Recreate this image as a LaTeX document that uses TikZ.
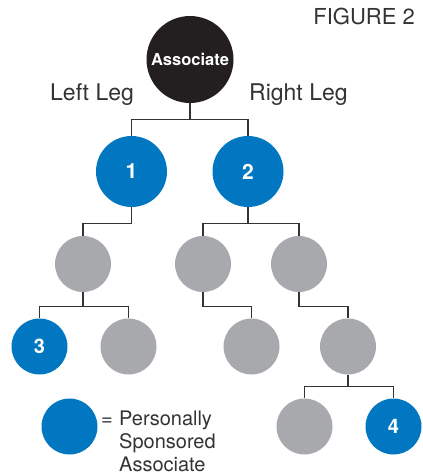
\documentclass[tikz,border=0pt]{standalone}
\usepackage{fontspec}
\setmainfont{TeX Gyre Heros}
\definecolor{cblue}{HTML}{0077C0}
\definecolor{cgray}{HTML}{A7A9AC}
\definecolor{cblack}{HTML}{231F20}
\definecolor{ctext}{HTML}{333333}
\begin{document}
\begin{tikzpicture}[x=1pt,y=-1pt,
  bub/.style={circle,inner sep=0pt,minimum size=56pt,draw=none},
  graybub/.style={bub,fill=cgray},
  bluebub/.style={bub,fill=cblue,text=white,font=\bfseries\fontsize{20}{24}\selectfont},
  bigbub/.style={bluebub,minimum size=71pt,font=\bfseries\fontsize{21}{24}\selectfont},
  link/.style={draw=ctext,line width=1.3pt},
  lbl/.style={anchor=base west,inner sep=0pt,text=ctext,font=\fontsize{23}{27}\selectfont},
  leg/.style={anchor=base west,inner sep=0pt,text=ctext,font=\fontsize{20}{23}\selectfont}]
\useasboundingbox (0,0) rectangle (423,475);
% nodes
\node[circle,inner sep=0pt,minimum size=87pt,fill=cblack,text=white,font=\bfseries\fontsize{16.5}{20}\selectfont] (root) at (190,59.5) {Associate};
\node[bigbub] (n1) at (131.5,171.5) {1};
\node[bigbub] (n2) at (248,171.5) {2};
\node[graybub] (a) at (83,264) {};
\node[graybub] (b) at (203,264) {};
\node[graybub] (c) at (299,264) {};
\node[bluebub] (n3) at (39.5,346.5) {3};
\node[graybub] (d) at (128.5,346.5) {};
\node[graybub] (e) at (251.5,346.5) {};
\node[graybub] (f) at (348,346.5) {};
\node[graybub] (g) at (304.5,426.5) {};
\node[bluebub] (n4) at (393.5,426.5) {4};
\node[bluebub] (legend) at (69.5,426.5) {};
% labels
\node[lbl,anchor=base east,font=\fontsize{22}{26}\selectfont] (fig) at (415,24) {FIGURE 2};
\node[lbl] (left) at (50,100) {Left Leg};
\node[lbl] (right) at (249,100) {Right Leg};
\node[leg] (eq) at (101,425) {=};
\node[leg] (t1) at (119,425) {Personally};
\node[leg] (t2) at (119,448) {Sponsored};
\node[leg] (t3) at (119,471) {Associate};
% connectors
\draw[link] (root.south) -- ++(0,16) -| (n1.north);
\draw[link] (root.south) -- ++(0,16) -| (n2.north);
\draw[link] (n1.south) -- ++(0,16) -| (a.north);
\draw[link] (n2.south) -- ++(0,16) -| (b.north);
\draw[link] (n2.south) -- ++(0,16) -| (c.north);
\draw[link] (a.south) -- ++(0,14) -| (n3.north);
\draw[link] (a.south) -- ++(0,14) -| (d.north);
\draw[link] (b.south) -- ++(0,14) -| (e.north);
\draw[link] (c.south) -- ++(0,14) -| (f.north);
\draw[link] (f.south) -- ++(0,12) -| (g.north);
\draw[link] (f.south) -- ++(0,12) -| (n4.north);
\end{tikzpicture}
\end{document}
